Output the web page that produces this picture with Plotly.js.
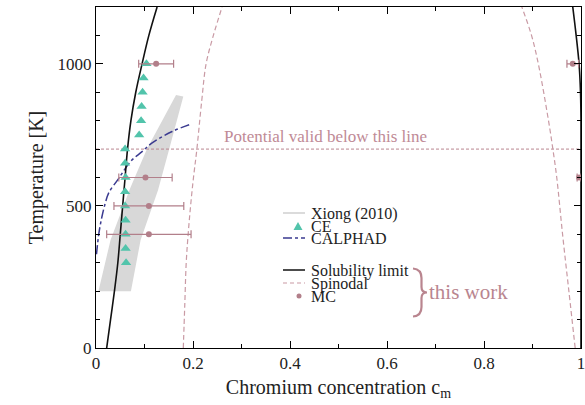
<!DOCTYPE html>
<html><head><meta charset="utf-8">
<script src="https://cdn.plot.ly/plotly-3.0.1.min.js"></script>
<style>html,body{margin:0;padding:0;background:#fff}#chart{width:585px;height:405px}</style>
</head><body><div id="chart"></div>
<script>
// Xiong (2010) shaded band (polygon outline: left edge up, right edge down)
const xiongC = [0.005, 0.03, 0.07, 0.105, 0.165, 0.180, 0.151, 0.128, 0.092, 0.072, 0.005];
const xiongT = [200, 380, 560, 700, 890, 885, 700, 556, 380, 200, 200];
// CE
const ceC = [0.104, 0.098, 0.096, 0.094, 0.093, 0.089, 0.060, 0.060, 0.061, 0.060, 0.060, 0.061, 0.061, 0.061, 0.062];
const ceT = [1000, 950, 900, 850, 800, 750, 700, 650, 600, 550, 500, 450, 400, 350, 300];
// CALPHAD
const calC = [0.001, 0.006, 0.012, 0.019, 0.026, 0.047, 0.071, 0.095, 0.115, 0.157, 0.194];
const calT = [330, 404, 460, 509, 545, 597, 656, 691, 721, 762, 787];
// Solubility limit (left and right branch)
const solLC = [0.022, 0.030, 0.038, 0.045, 0.050, 0.055, 0.060, 0.065, 0.072, 0.082, 0.095, 0.109, 0.126];
const solLT = [0, 100, 200, 300, 400, 500, 600, 700, 800, 900, 1000, 1100, 1200];
const solRC = [1.0, 1.0, 0.999, 0.996, 0.990, 0.983];
const solRT = [0, 800, 900, 1000, 1100, 1200];
// Spinodal (left and right branch)
const spLC = [0.180, 0.183, 0.186, 0.190, 0.195, 0.201, 0.208, 0.218, 0.227, 0.242, 0.260];
const spLT = [0, 150, 300, 400, 500, 600, 700, 870, 1000, 1100, 1200];
const spRC = [0.988, 0.975, 0.962, 0.950, 0.942, 0.933, 0.912, 0.898, 0.878];
const spRT = [0, 200, 400, 600, 700, 800, 1000, 1100, 1200];
// MC with error bars
const mcC = [0.124, 0.102, 0.109, 0.109, 0.983, 0.996];
const mcT = [1000, 600, 500, 400, 1000, 600];
const mcErr = [0.036, 0.055, 0.072, 0.087, 0.012, 0.004];
// validity line
const validC = [0, 1];
const validT = [700, 700];
// legend labels
const legendLabels = ['Xiong (2010)', 'CE', 'CALPHAD', 'Solubility limit', 'Spinodal', 'MC'];

const mauve = '#b9858f';
const spinCol = '#c99aa4';
const ceCol = '#52c4ab';
const calCol = '#3a3a90';
const mcCol = '#b27f8a';
const grayCol = '#d8d8d8';

const traces = [
  {x: xiongC, y: xiongT, mode: 'lines', fill: 'toself', fillcolor: grayCol, line: {width: 0, color: grayCol}, hoverinfo: 'skip'},
  {x: validC, y: validT, mode: 'lines', line: {color: mauve, width: 1, dash: '3px,2px'}},
  {x: spLC, y: spLT, mode: 'lines', line: {color: spinCol, width: 1.2, dash: '5px,3px', shape: 'spline'}},
  {x: spRC, y: spRT, mode: 'lines', line: {color: spinCol, width: 1.2, dash: '5px,3px', shape: 'spline'}},
  {x: calC, y: calT, mode: 'lines', line: {color: calCol, width: 1.5, dash: 'dashdot', shape: 'spline'}},
  {x: solLC, y: solLT, mode: 'lines', line: {color: '#111', width: 1.6, shape: 'spline'}},
  {x: solRC, y: solRT, mode: 'lines', line: {color: '#111', width: 1.6, shape: 'spline'}},
  {x: ceC, y: ceT, mode: 'markers', marker: {symbol: 'triangle-up', size: 9, color: ceCol}},
  {x: mcC, y: mcT, mode: 'markers', marker: {symbol: 'circle', size: 6, color: mcCol},
   error_x: {type: 'data', array: mcErr, visible: true, color: mcCol, thickness: 1.2, width: 4}}
];

// pixel -> paper helpers for the hand-drawn legend (plot area 96..581 x, 7..348 y)
const PX = p => (p - 96) / 485;
const PY = p => (348 - p) / 341;
const fam = '"Liberation Serif", "DejaVu Serif", serif';

const rowsY = [213, 226, 238, 270, 283, 296];
const annotations = [
  {x: 0.474, y: 746, xref: 'x', yref: 'y', text: 'Potential valid below this line', showarrow: false,
   xanchor: 'center', yanchor: 'middle', font: {size: 17, family: fam, color: '#c08a96'}},
  {x: PX(427), y: PY(292), xref: 'paper', yref: 'paper', text: 'this work', showarrow: false,
   xanchor: 'left', yanchor: 'middle', font: {size: 21, family: fam, color: mauve}}
];
legendLabels.forEach((t, i) => annotations.push({x: PX(309), y: PY(rowsY[i] + 0.5), xref: 'paper', yref: 'paper',
  text: t, showarrow: false, xanchor: 'left', yanchor: 'middle', font: {size: 16, family: fam, color: '#222'}}));

const ln = (y, color, dash, w) => ({type: 'line', xref: 'paper', yref: 'paper', x0: PX(283), x1: PX(305), y0: PY(y), y1: PY(y),
  line: {color: color, width: w, dash: dash}});
const tri = `M ${PX(293.5)} ${PY(rowsY[1] + 4)} L ${PX(302.5)} ${PY(rowsY[1] + 4)} L ${PX(298)} ${PY(rowsY[1] - 4)} Z`;
const brace = `M ${PX(413)} ${PY(268.5)} C ${PX(419)} ${PY(269)} ${PX(421.5)} ${PY(272)} ${PX(421.5)} ${PY(278)} ` +
  `L ${PX(421.5)} ${PY(287)} C ${PX(421.5)} ${PY(291)} ${PX(423)} ${PY(292.5)} ${PX(427)} ${PY(292.5)} ` +
  `C ${PX(423)} ${PY(292.5)} ${PX(421.5)} ${PY(294)} ${PX(421.5)} ${PY(298)} ` +
  `L ${PX(421.5)} ${PY(307)} C ${PX(421.5)} ${PY(313)} ${PX(419)} ${PY(316)} ${PX(413)} ${PY(316.5)}`;
const shapes = [
  ln(rowsY[0], '#cfcfcf', 'solid', 1.5),
  {type: 'path', xref: 'paper', yref: 'paper', path: tri, fillcolor: ceCol, line: {width: 0}},
  ln(rowsY[2], calCol, 'dashdot', 1.3),
  ln(rowsY[3], '#111', 'solid', 1.5),
  ln(rowsY[4], spinCol, '4px,3px', 1.1),
  {type: 'circle', xref: 'paper', yref: 'paper', x0: PX(296.5), x1: PX(301.5), y0: PY(rowsY[5] + 2.5), y1: PY(rowsY[5] - 2.5),
   fillcolor: mcCol, line: {width: 0}},
  {type: 'path', xref: 'paper', yref: 'paper', path: brace, line: {color: mauve, width: 2.2}}
];

const layout = {
  width: 585, height: 405,
  margin: {l: 96, r: 4, t: 7, b: 57},
  paper_bgcolor: '#fff', plot_bgcolor: '#fff',
  font: {family: fam, size: 17, color: '#222'},
  showlegend: false,
  xaxis: {range: [0, 1], dtick: 0.2, tick0: 0, ticks: 'inside', ticklen: 7, tickcolor: '#000',
          showline: true, linecolor: '#000', linewidth: 1, mirror: 'allticks', showgrid: false, zeroline: false,
          ticklabeloverflow: 'allow',
          tickfont: {size: 17, family: fam, color: '#222'},
          minor: {dtick: 0.1, ticks: 'inside', ticklen: 4, tickcolor: '#000', showgrid: false},
          title: {text: 'Chromium concentration c<sub>m</sub>', font: {size: 20, family: fam, color: '#222'}, standoff: 7}},
  yaxis: {range: [0, 1200], dtick: 500, tick0: 0, ticks: 'inside', ticklen: 7, tickcolor: '#000',
          showline: true, linecolor: '#000', linewidth: 1, mirror: 'allticks', showgrid: false, zeroline: false,
          tickfont: {size: 17, family: fam, color: '#222'},
          minor: {dtick: 100, ticks: 'inside', ticklen: 4, tickcolor: '#000', showgrid: false},
          title: {text: 'Temperature [K]', font: {size: 20, family: fam, color: '#222'}, standoff: 8}},
  annotations: annotations,
  shapes: shapes
};
Plotly.newPlot('chart', traces, layout, {displayModeBar: false, staticPlot: true});
</script>
</body></html>
